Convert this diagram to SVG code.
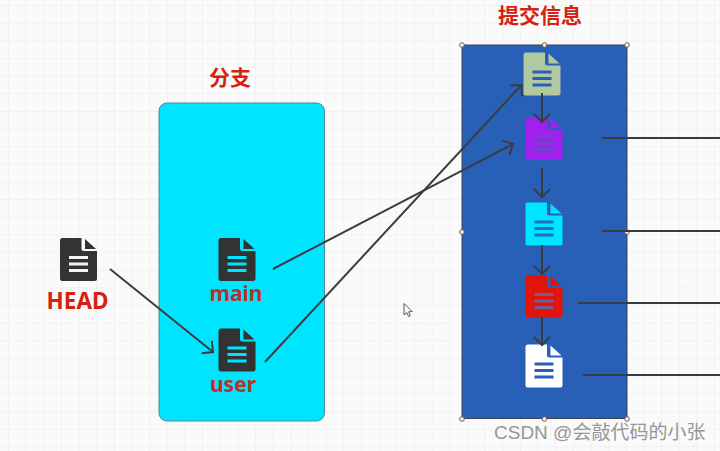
<svg xmlns="http://www.w3.org/2000/svg" width="720" height="451" viewBox="0 0 720 451">
<style>
.t{font-family:"Noto Sans","Noto Sans CJK SC",sans-serif;font-weight:700;fill:#d8200f}
.c{stroke:#3a3d40;stroke-width:2;fill:none}
.h{fill:#f4f1ee;stroke:#7a5a50;stroke-width:1}
</style>
<defs>
<pattern id="grid" width="17.65" height="17.65" patternUnits="userSpaceOnUse" x="8" y="5">
<path d="M0.5 0V17.65M0 0.5H17.65" stroke="#f1f1f1" stroke-width="1.2" fill="none"/>
</pattern>
<marker id="a" markerUnits="userSpaceOnUse" markerWidth="20" markerHeight="20" refX="10" refY="10" orient="auto">
<path d="M2 2L10 10L2 18" fill="none" stroke="#3a3d40" stroke-width="2"/>
</marker>
<path id="page" d="M2.5 0H21.5V10.5Q21.5 13 24 13H37V40.500Q37 43 34.500 43H2.500Q0 43 0 40.500V2.500Q0 0 2.500 0ZM25 1L36 11H25Z"/>
<path id="rows" d="M9 19.500H28M9 26H28M9 32.500H28" fill="none" stroke-width="2.800"/>
</defs>
<rect width="720" height="451" fill="#fafafa"/>
<rect width="720" height="451" fill="url(#grid)"/>

<g id="branch-box"><rect x="159" y="103" width="165.500" height="318" rx="8" fill="#00e5ff" stroke="#4a8a94" stroke-width="1"/></g>
<g id="commit-box">
<rect x="462" y="45" width="165" height="373.500" fill="#2860b8" stroke="#3d4450" stroke-width="1"/>
<circle class="h" cx="462" cy="45" r="2.300"/><circle class="h" cx="544.500" cy="45" r="2.300"/><circle class="h" cx="627" cy="45" r="2.300"/>
<circle class="h" cx="462" cy="232" r="2.300"/><circle class="h" cx="627" cy="232" r="2.300"/>
<circle class="h" cx="462" cy="419" r="2.300"/><circle class="h" cx="544.500" cy="419" r="2.300"/><circle class="h" cx="627" cy="419" r="2.300"/>
</g>

<g id="title-branch"><text class="t" x="230" y="85" font-size="21" text-anchor="middle">分支</text></g>
<g id="title-commit"><text class="t" x="540" y="23" font-size="21" text-anchor="middle">提交信息</text></g>

<g id="head"><use href="#page" x="60" y="238" fill="#333333"/><use href="#rows" x="60" y="238" stroke="#f4f4f4"/>
<text class="t" x="77.500" y="308.500" font-size="22.500" text-anchor="middle">HEAD</text></g>
<g id="main"><use href="#page" x="218.500" y="238" fill="#333333"/><use href="#rows" x="218.500" y="238" stroke="#00e5ff"/>
<text class="t" x="236" y="301" font-size="21" text-anchor="middle" style="fill:#b8322a">main</text></g>
<g id="user"><use href="#page" x="218.500" y="328.500" fill="#333333"/><use href="#rows" x="218.500" y="328.500" stroke="#00e5ff"/>
<text class="t" x="233" y="392" font-size="21" text-anchor="middle" style="fill:#b8322a">user</text></g>

<g id="commit-1"><use href="#page" x="523.500" y="52.500" fill="#b2c8a0"/><use href="#rows" x="523.500" y="52.500" stroke="#2860b8"/></g>
<g id="commit-2"><use href="#page" x="525.500" y="117" fill="#a020f0"/><use href="#rows" x="525.500" y="117" stroke="#6a48c8"/></g>
<g id="commit-3"><use href="#page" x="525.500" y="202.500" fill="#00e5ff"/><use href="#rows" x="525.500" y="202.500" stroke="#2070c0"/></g>
<g id="commit-4"><use href="#page" x="525.500" y="275" fill="#e01408"/><use href="#rows" x="525.500" y="275" stroke="#7a5a90"/></g>
<g id="commit-5"><use href="#page" x="525.500" y="344.500" fill="#ffffff"/><use href="#rows" x="525.500" y="344.500" stroke="#2860b8"/></g>

<g id="connectors">
<path class="c" d="M110 269L213 352" marker-end="url(#a)"/>
<path class="c" d="M273 269L513 144" marker-end="url(#a)"/>
<path class="c" d="M265 362L521.500 85" marker-end="url(#a)"/>
<path class="c" d="M542 93V122" marker-end="url(#a)"/>
<path class="c" d="M542 168V197" marker-end="url(#a)"/>
<path class="c" d="M542 245V274" marker-end="url(#a)"/>
<path class="c" d="M542 317V345" marker-end="url(#a)"/>
<path class="c" d="M602 138H720"/>
<path class="c" d="M602 231H720"/>
<path class="c" d="M578 303H720"/>
<path class="c" d="M583 375H720"/>
</g>

<path id="cursor" d="M404 303.500V315L406.800 312.500L408.500 316.500L410.300 315.700L408.600 311.800L412.300 311.500Z" fill="#fafafa" stroke="#555a60" stroke-width="1"/>
<text x="494" y="438.500" font-size="19" fill="#969696" font-family="'Liberation Sans','Noto Sans CJK SC',sans-serif">CSDN @会敲代码的小张</text>
</svg>
